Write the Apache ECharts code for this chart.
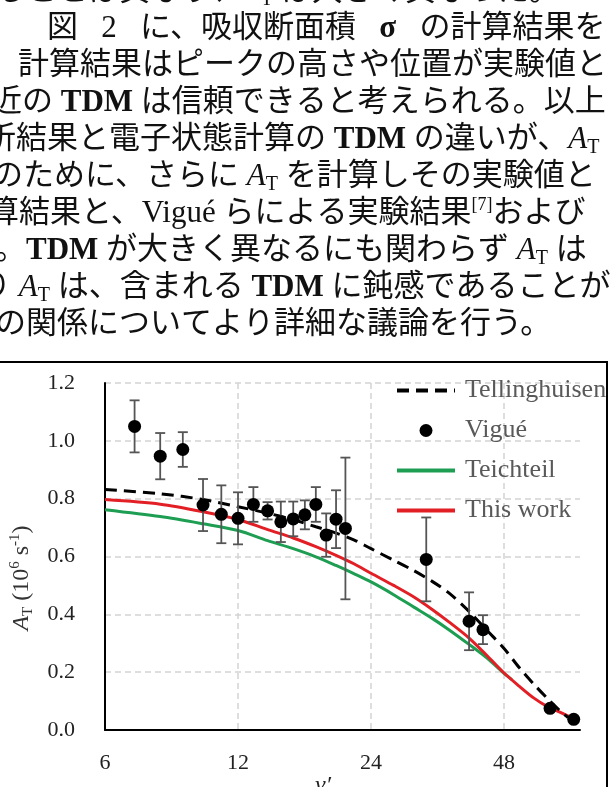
<!DOCTYPE html>
<html>
<head>
<meta charset="utf-8">
<script src="https://cdn.jsdelivr.net/npm/echarts@6/dist/echarts.min.js"></script>
<style>
  html, body { margin: 0; padding: 0; background: #fff; }
  #chart { width: 614px; height: 787px; }
</style>
</head>
<body>
<div id="chart"></div>
<script>
// Axis ticks
const xTicks = [6, 12, 24, 48];
const yTicks = [0, 0.2, 0.4, 0.6, 0.8, 1.0, 1.2];

// Tellinghuisen (dashed curve): v' and A_T (10^6 s^-1)
const tellV = [6, 8, 10, 12, 14, 16, 18, 20, 22, 24, 27, 30, 33, 36, 40, 44, 48, 52, 56, 60, 64, 67];
const tellA = [0.832, 0.817, 0.797, 0.772, 0.750, 0.727, 0.703, 0.681, 0.657, 0.627, 0.587, 0.551, 0.514, 0.474, 0.410, 0.343, 0.282, 0.215, 0.159, 0.111, 0.069, 0.043];

// Teichteil (green curve)
const teichV = [6, 8, 10, 12, 14, 16, 18, 20, 22, 24, 27, 30, 33, 36, 40, 44, 48, 50];
const teichA = [0.762, 0.738, 0.713, 0.690, 0.655, 0.627, 0.599, 0.569, 0.540, 0.512, 0.468, 0.425, 0.386, 0.347, 0.296, 0.248, 0.196, 0.174];

// This work (red curve)
const workV = [6, 8, 10, 12, 14, 16, 18, 20, 22, 24, 27, 30, 33, 36, 40, 44, 48, 52, 56, 60, 64, 68, 70];
const workA = [0.797, 0.781, 0.755, 0.728, 0.693, 0.664, 0.634, 0.604, 0.574, 0.542, 0.500, 0.460, 0.417, 0.374, 0.318, 0.256, 0.197, 0.151, 0.111, 0.082, 0.063, 0.044, 0.034];

// Vigué measurements with symmetric error bars (0 = no bar)
const vigueV = [7, 8, 9, 10, 11, 12, 13, 14, 15, 16, 17, 18, 19, 20, 21, 32, 40, 43, 61, 69];
const vigueA = [1.050, 0.947, 0.970, 0.778, 0.746, 0.732, 0.780, 0.758, 0.720, 0.730, 0.744, 0.780, 0.674, 0.729, 0.697, 0.590, 0.376, 0.347, 0.075, 0.037];
const vigueErr = [0.09, 0.08, 0.06, 0.09, 0.10, 0.09, 0.06, 0.03, 0.07, 0.06, 0.05, 0.06, 0.075, 0.10, 0.245, 0.145, 0.10, 0.05, 0, 0];

// Paragraph above the figure
const paraRows = [
  'ることは異なり、{i|A}{s|T} は大きく異なった。',
  '図   2   に、吸収断面積   {b|σ}   の計算結果を',
  '計算結果はピークの高さや位置が実験値と',
  '近の {b|TDM} は信頼できると考えられる。以上',
  '析結果と電子状態計算の {b|TDM} の違いが、{i|A}{s|T}',
  'のために、さらに {i|A}{s|T} を計算しその実験値と',
  '算結果と、Vigué らによる実験結果{p|[7]}および',
  '。{b|TDM} が大きく異なるにも関わらず {i|A}{s|T} は',
  'り {i|A}{s|T} は、含まれる {b|TDM} に鈍感であることが',
  'の関係についてより詳細な議論を行う。'
];

const serif = '"Liberation Serif", "Times New Roman", serif';
const mixed = '"Liberation Serif", "Noto Sans CJK JP", serif';

const zip = (xs, ys) => xs.map((x, i) => [x, ys[i]]);

const paraLeft = [-5, 47, 18, -9, -15, -8, -12, -5, -20, -5];
const paraRich = {
  i: { fontFamily: serif, fontSize: 31, fontStyle: 'italic', fill: '#111', lineHeight: 36 },
  s: { fontFamily: serif, fontSize: 20, fill: '#111', lineHeight: 20, verticalAlign: 'bottom' },
  b: { fontFamily: serif, fontSize: 31, fontWeight: 'bold', fill: '#111', lineHeight: 36 },
  p: { fontFamily: serif, fontSize: 18, fill: '#111', lineHeight: 18, verticalAlign: 'top' }
};
const paraGraphics = paraRows.map((t, k) => ({
  type: 'text',
  x: paraLeft[k],
  y: -8 + k * 37,
  silent: true,
  style: {
    text: t,
    fontFamily: mixed,
    fontSize: 31,
    lineHeight: 36,
    fill: '#111',
    align: 'left',
    verticalAlign: 'middle',
    rich: paraRich
  }
}));

const chart = echarts.init(document.getElementById('chart'), null, { renderer: 'canvas' });

const gridLine = { color: '#d4d4d4', width: 1.5, type: [6, 4] };
// legend entries for curves show the line only
const lineOnly = { color: 'rgba(0,0,0,0)', borderWidth: 0 };

chart.setOption({
  animation: false,
  backgroundColor: '#fff',
  grid: { left: 105, right: 34, top: 383, bottom: 57 },
  legend: {
    orient: 'vertical',
    left: 390,
    top: 371,
    itemWidth: 58,
    itemHeight: 13,
    itemGap: 11,
    data: [
      { name: 'Tellinghuisen', itemStyle: lineOnly },
      { name: 'Vigué' },
      { name: 'Teichteil', itemStyle: lineOnly },
      { name: 'This work', itemStyle: lineOnly }
    ],
    lineStyle: { width: 4 },
    textStyle: { fontFamily: serif, fontSize: 26, color: '#595959', lineHeight: 29, padding: [0, 0, 0, 5] }
  },
  xAxis: {
    type: 'log',
    logBase: 2,
    min: 6,
    max: 71.3,
    axisLine: { show: true, onZero: false, lineStyle: { color: '#000', width: 2 } },
    axisTick: { show: false, customValues: xTicks },
    axisLabel: {
      customValues: xTicks,
      formatter: v => String(Math.round(v)),
      fontFamily: serif, fontSize: 22, color: '#222', margin: 22
    },
    splitLine: { show: true, lineStyle: gridLine }
  },
  yAxis: {
    type: 'value',
    min: yTicks[0],
    max: yTicks[yTicks.length - 1],
    interval: 0.2,
    axisLine: { show: true, lineStyle: { color: '#000', width: 2 } },
    axisTick: { show: false },
    axisLabel: {
      formatter: v => v.toFixed(1),
      fontFamily: serif, fontSize: 22, color: '#222', margin: 30
    },
    splitLine: { show: true, lineStyle: gridLine }
  },
  series: [
    {
      name: 'Teichteil', type: 'line', data: zip(teichV, teichA),
      symbol: 'none', smooth: 0.3, z: 2,
      itemStyle: { color: '#1e9e52' },
      lineStyle: { color: '#1e9e52', width: 3 }
    },
    {
      name: 'This work', type: 'line', data: zip(workV, workA),
      symbol: 'none', smooth: 0.3, z: 3,
      itemStyle: { color: '#e31f26' },
      lineStyle: { color: '#e31f26', width: 3 }
    },
    {
      name: 'Tellinghuisen', type: 'line', data: zip(tellV, tellA),
      symbol: 'none', smooth: 0.3, z: 4,
      itemStyle: { color: '#000' },
      lineStyle: { color: '#000', width: 3, type: [12, 7] }
    },
    {
      name: 'Vigué error', type: 'custom', z: 5,
      data: vigueV.map((v, i) => [v, vigueA[i], vigueErr[i]]),
      encode: { x: 0, y: 1 },
      renderItem: (params, api) => {
        const v = api.value(0), a = api.value(1), e = api.value(2);
        if (!e) return null;
        const top = api.coord([v, a + e]);
        const bot = api.coord([v, a - e]);
        const hw = 5;
        const st = { stroke: '#555', lineWidth: 1.8 };
        return {
          type: 'group',
          children: [
            { type: 'line', shape: { x1: top[0], y1: top[1], x2: bot[0], y2: bot[1] }, style: st },
            { type: 'line', shape: { x1: top[0] - hw, y1: top[1], x2: top[0] + hw, y2: top[1] }, style: st },
            { type: 'line', shape: { x1: bot[0] - hw, y1: bot[1], x2: bot[0] + hw, y2: bot[1] }, style: st }
          ]
        };
      }
    },
    {
      name: 'Vigué', type: 'scatter', data: zip(vigueV, vigueA),
      symbol: 'circle', symbolSize: 13, z: 6,
      itemStyle: { color: '#000', opacity: 1 }
    }
  ],
  graphic: [
    ...paraGraphics,
    {
      type: 'rect', silent: true,
      shape: { x: -3, y: 362, width: 610, height: 440 },
      style: { fill: null, stroke: '#000', lineWidth: 2 }
    },
    {
      type: 'text', silent: true, x: 22, y: 578, rotation: Math.PI / 2,
      style: {
        text: '{i|A}{s|T}{n| (10}{p|6}{n| s}{p|-1}{n|)}',
        align: 'center', verticalAlign: 'middle',
        fill: '#333',
        rich: {
          i: { fontFamily: serif, fontSize: 24, fontStyle: 'italic', fill: '#333', lineHeight: 28 },
          s: { fontFamily: serif, fontSize: 15, fill: '#333', lineHeight: 15, verticalAlign: 'bottom' },
          n: { fontFamily: serif, fontSize: 24, fill: '#333', lineHeight: 28 },
          p: { fontFamily: serif, fontSize: 15, fill: '#333', lineHeight: 15, verticalAlign: 'top' }
        }
      }
    },
    {
      type: 'text', silent: true, x: 323, y: 786,
      style: {
        text: 'v′', fontFamily: serif, fontSize: 24, fontStyle: 'italic',
        fill: '#222', align: 'center', verticalAlign: 'middle'
      }
    }
  ]
});
</script>
</body>
</html>
